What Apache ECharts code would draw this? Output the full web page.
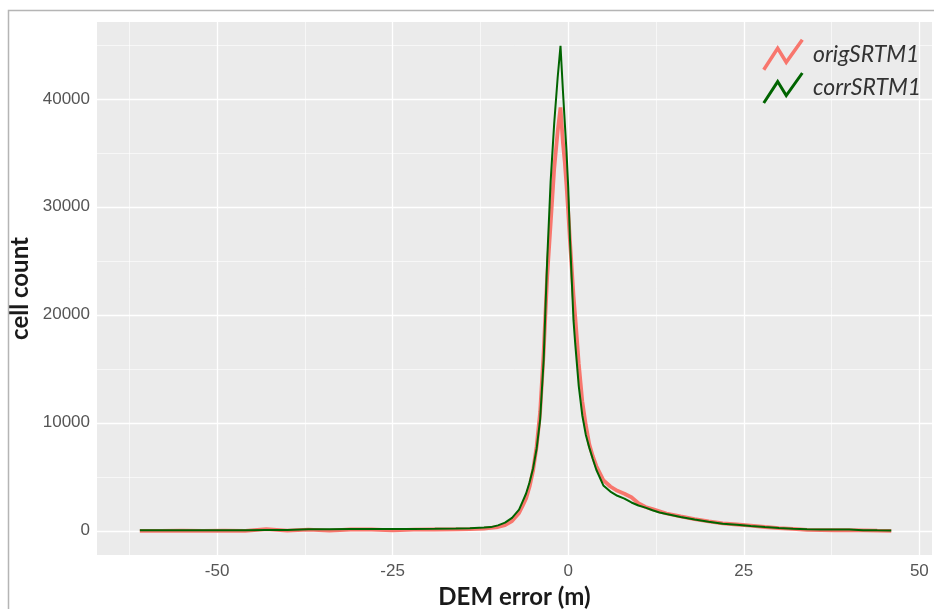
<!DOCTYPE html>
<html><head><meta charset="utf-8">
<script src="https://cdn.jsdelivr.net/npm/echarts@6/dist/echarts.min.js"></script>
<style>html,body{margin:0;padding:0;background:#fff}#c{width:934px;height:609px}</style>
</head><body><div id="c"></div>
<script>
const xValues = [-61, -58, -55, -52, -49, -46, -43, -40, -37, -34, -31, -28, -25, -22, -19, -16,
  -14, -12, -11, -10, -9, -8, -7,
  -6.5, -6, -5.5, -5, -4.5, -4, -3.5, -3, -2.5, -2, -1.5,
  -1.1,
  -0.75, -0.5, -0.25, 0, 0.25, 0.5, 0.75, 1,
  1.5, 2, 2.5, 3, 3.5, 4,
  5, 6, 7, 8, 9, 10, 11, 12, 13, 14,
  16, 18, 20, 22, 24, 26, 28, 30, 32, 34, 36, 38, 40, 42, 44, 46];
const origCounts = [0, 0, 10, 0, 20, 0, 150, 20, 100, 20, 120, 120, 30, 110, 120, 130,
  150, 200, 260, 350, 520, 900, 1650,
  2300, 3000, 4100, 5600, 7800, 11000, 16500, 23500, 28500, 33500, 37000,
  39200,
  35900, 34200, 32000, 29500, 26800, 24300, 21800, 19800,
  15500, 12000, 9800, 8000, 6900, 6000,
  4700, 4100, 3700, 3430, 3100, 2550, 2200, 2000, 1800, 1600,
  1330, 1080, 860, 680, 580, 470, 350, 250, 170, 90, 60, 50, 50, 40, 10, 0];
const corrCounts = [50, 50, 50, 50, 55, 60, 65, 70, 150, 150, 160, 160, 160, 170, 180, 200,
  230, 300, 340, 500, 750, 1200, 1950,
  2700, 3450, 4500, 5800, 7600, 10300, 15800, 25000, 32400, 37700, 42000,
  44900,
  40700, 37900, 35200, 31800, 27000, 23300, 19500, 17300,
  13400, 10700, 8900, 7700, 6650, 5650,
  4200, 3630, 3240, 2980, 2620, 2340, 2140, 1900, 1700, 1550,
  1280, 1050, 840, 650, 550, 445, 350, 260, 180, 130, 120, 115, 110, 60, 40, 30];
const seriesNames = ['origSRTM1', 'corrSRTM1'];
const xTickValues = [-50, -25, 0, 25, 50];
const xMinorGrid = [-62.5, -37.5, -12.5, 12.5, 37.5];
const yTickValues = [0, 10000, 20000, 30000, 40000];
const yMinorGrid = [5000, 15000, 25000, 35000, 45000];

const chart = echarts.init(document.getElementById('c'), null, { renderer: 'canvas' });
const zip = ys => xValues.map((x, i) => [x, ys[i]]);
const gridLines = [
  ...xMinorGrid.map(v => ({ xAxis: v, lineStyle: { width: 0.6 } })),
  ...yMinorGrid.map(v => ({ yAxis: v, lineStyle: { width: 0.6 } })),
  ...xTickValues.map(v => ({ xAxis: v, lineStyle: { width: 1.3 } })),
  ...yTickValues.map(v => ({ yAxis: v, lineStyle: { width: 1.3 } }))
];
const tickFont = { fontFamily: 'Liberation Sans', fontSize: 17, color: '#555555', formatter: v => String(v) };
const titleFont = { fontFamily: 'Lato', fontWeight: 'bold', fontSize: 24, color: '#1a1a1a' };
const zigzag = 'path://M2,29 L15,9 L23,22 L38,1';

chart.setOption({
  animation: false,
  backgroundColor: '#fff',
  graphic: [{
    type: 'rect', shape: { x: 8.5, y: 10.5, width: 940, height: 620 },
    style: { fill: 'none', stroke: '#b5b5b5', lineWidth: 1.5 }, z: 100, silent: true
  }],
  grid: { left: 97, right: 2, top: 22, bottom: 54, show: true, backgroundColor: '#EBEBEB', borderWidth: 0,
    containLabel: false, outerBoundsMode: 'none' },
  xAxis: {
    type: 'value', min: -67.1, max: 51.8,
    name: 'DEM error (m)', nameLocation: 'middle', nameGap: 30, nameTextStyle: titleFont,
    axisLine: { show: false }, splitLine: { show: false },
    axisTick: { show: true, customValues: xTickValues, length: 4, lineStyle: { color: '#333', width: 1 } },
    axisLabel: Object.assign({ customValues: xTickValues, margin: 8 }, tickFont)
  },
  yAxis: {
    type: 'value', min: -2243, max: 47113,
    name: 'cell count', nameLocation: 'middle', nameGap: 55, nameTextStyle: titleFont,
    axisLine: { show: false }, splitLine: { show: false },
    axisTick: { show: true, customValues: yTickValues, length: 4, lineStyle: { color: '#333', width: 1 } },
    axisLabel: Object.assign({ customValues: yTickValues, margin: 7 }, tickFont)
  },
  legend: {
    orient: 'vertical', left: 757, top: 33, itemWidth: 40, itemHeight: 30, itemGap: 0,
    textStyle: { fontFamily: 'Lato', fontStyle: 'italic', fontSize: 23, color: '#333', padding: [10, 0, 0, 5] },
    data: [
      { name: seriesNames[0], icon: zigzag, itemStyle: { color: 'transparent', borderColor: '#F8766D', borderWidth: 3.5 } },
      { name: seriesNames[1], icon: zigzag, itemStyle: { color: 'transparent', borderColor: '#006400', borderWidth: 3 } }
    ]
  },
  series: [
    {
      name: seriesNames[0], type: 'line', data: zip(origCounts), showSymbol: false, symbol: 'none',
      lineStyle: { color: '#F8766D', width: 3.8 }, itemStyle: { color: '#F8766D' }, z: 2,
      markLine: {
        silent: true, symbol: ['none', 'none'], label: { show: false }, z: 1, animation: false,
        lineStyle: { color: '#ffffff', type: 'solid' }, emphasis: { disabled: true },
        data: gridLines
      }
    },
    {
      name: seriesNames[1], type: 'line', data: zip(corrCounts), showSymbol: false, symbol: 'none',
      lineStyle: { color: '#006400', width: 2 }, itemStyle: { color: '#006400' }, z: 3
    }
  ]
});
</script></body></html>
